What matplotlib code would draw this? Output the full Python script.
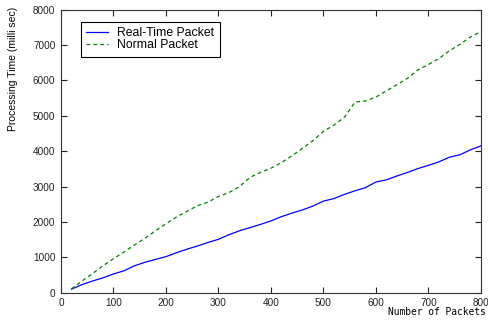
import matplotlib
matplotlib.use("Agg")
import matplotlib.pyplot as plt

packets = [20, 40, 60, 80, 100, 120, 140, 160, 180, 200, 220, 240, 260, 280, 300,
           320, 340, 360, 380, 400, 420, 440, 460, 480, 500, 520, 540, 560, 580, 600,
           620, 640, 660, 680, 700, 720, 740, 760, 780, 800]
realtime = [100, 230, 330, 420, 530, 620, 760, 860, 940, 1020, 1130, 1230, 1320, 1420, 1510,
            1640, 1750, 1840, 1930, 2030, 2150, 2250, 2340, 2450, 2590, 2660, 2780, 2880, 2970, 3130,
            3190, 3300, 3400, 3510, 3600, 3700, 3830, 3900, 4040, 4150]
normal = [110, 330, 540, 760, 960, 1150, 1350, 1540, 1750, 1950, 2140, 2300, 2460, 2560, 2720,
          2830, 3000, 3260, 3400, 3520, 3680, 3870, 4080, 4300, 4560, 4740, 4960, 5390, 5420, 5530,
          5710, 5880, 6060, 6300, 6450, 6620, 6840, 7020, 7230, 7380]

plt.rcParams['font.family'] = ['Liberation Sans', 'DejaVu Sans']

fig = plt.figure(figsize=(4.89, 3.24), dpi=100)
ax = fig.add_axes([0.1247, 0.0966, 0.8589, 0.8735])
ax.plot(packets, realtime, color='#0000ff', lw=0.9, label='Real-Time Packet')
ax.plot(packets, normal, color='#008000', lw=0.9, linestyle=(0, (3, 2.5)), label='Normal Packet')
ax.set_xlim(0, 800)
ax.set_ylim(0, 8000)
ax.set_xticks(range(0, 801, 100))
ax.set_yticks(range(0, 8001, 1000))
ax.tick_params(direction='in', top=True, right=True, length=4, width=0.8, labelsize=7.2, pad=4,
               colors='#222222')
for s in ax.spines.values():
    s.set_linewidth(0.8)
    s.set_color('#333333')
fig.text(0.0256, 0.787, 'Processing Time (milli sec)', rotation=90, ha='center', va='center',
         fontsize=7.5)
fig.text(0.994, 0.022, 'Number of Packets', ha='right', va='bottom', fontsize=6.9,
         family='DejaVu Sans Mono')
leg = ax.legend(loc='upper left', bbox_to_anchor=(0.0476, 0.9566), borderaxespad=0,
                fontsize=8.8, frameon=True, fancybox=False, edgecolor='black', framealpha=1,
                handlelength=1.8, borderpad=0.45, labelspacing=0.0, handletextpad=0.7)
leg.get_frame().set_linewidth(0.8)
fig.savefig('out.png', dpi=100)
